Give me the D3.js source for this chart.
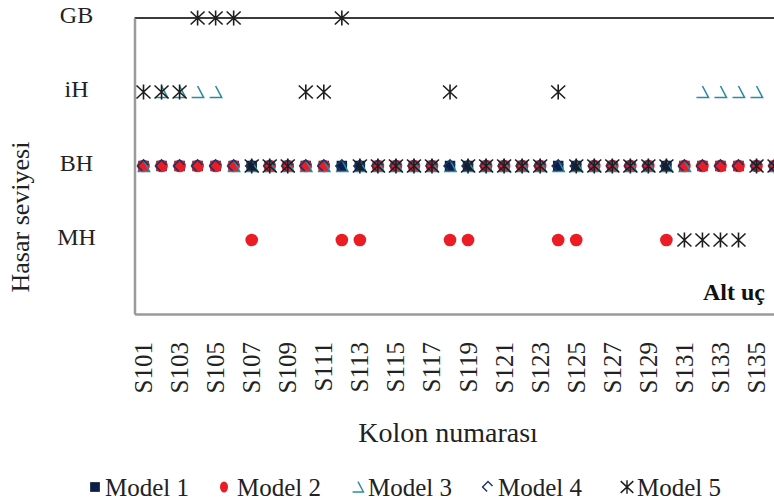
<!DOCTYPE html>
<html>
<head>
<meta charset="utf-8">
<script src="https://cdn.jsdelivr.net/npm/d3@7"></script>
<style>
  body { margin: 0; background: #fff; }
  svg { display: block; font-family: "Liberation Serif", serif; }
</style>
</head>
<body>
<div id="chart"></div>
<script>
const columns = ['S101','S102','S103','S104','S105','S106','S107','S108','S109','S110','S111','S112',
  'S113','S114','S115','S116','S117','S118','S119','S120','S121','S122','S123','S124',
  'S125','S126','S127','S128','S129','S130','S131','S132','S133','S134','S135','S136'];
const tickLabels = ['S101','S103','S105','S107','S109','S111','S113','S115','S117',
  'S119','S121','S123','S125','S127','S129','S131','S133','S135'];
const levels = ['MH', 'BH', 'iH', 'GB'];

const model1 = ['BH','BH','BH','BH','BH','BH','BH','BH','BH','BH','BH','BH',
  'BH','BH','BH','BH','BH','BH','BH','BH','BH','BH','BH','BH',
  'BH','BH','BH','BH','BH','BH','BH','BH','BH','BH','BH','BH'];
const model2 = ['BH','BH','BH','BH','BH','BH','MH','BH','BH','BH','BH','MH',
  'MH','BH','BH','BH','BH','MH','MH','BH','BH','BH','BH','MH',
  'MH','BH','BH','BH','BH','MH','BH','BH','BH','BH','BH','BH'];
const model3 = ['BH','iH','iH','iH','iH','BH','BH','BH','BH','BH','BH','BH',
  'BH','BH','BH','BH','BH','BH','BH','BH','BH','BH','BH','BH',
  'BH','BH','BH','BH','BH','BH','BH','iH','iH','iH','iH','BH'];
const model4 = ['BH','BH','BH','BH','BH','BH','BH','BH','BH','BH','BH','BH',
  'BH','BH','BH','BH','BH','BH','BH','BH','BH','BH','BH','BH',
  'BH','BH','BH','BH','BH','BH','BH','BH','BH','BH','BH','BH'];
const model5 = ['iH','iH','iH','GB','GB','GB','BH','BH','BH','iH','iH','GB',
  'BH','BH','BH','BH','BH','iH','BH','BH','BH','BH','BH','iH',
  'BH','BH','BH','BH','BH','BH','MH','MH','MH','MH','BH','BH'];

const seriesNames = ['Model 1', 'Model 2', 'Model 3', 'Model 4', 'Model 5'];

const width = 774, height = 501;
const font = '"Liberation Serif", serif';

// marker shapes (Excel style, partly clipped like the original export)
const shapes = {
  'Model 1': { d: d3.symbol(d3.symbolSquare, 110)(), fill: '#0c1f48', stroke: 'none' },
  'Model 2': { d: d3.symbol(d3.symbolCircle, 125)(), fill: '#ec1c24', stroke: 'none' },
  'Model 3': { d: 'M0,-6L6,5.5H-6', fill: 'none', stroke: '#2b8aa6' },
  'Model 4': { d: 'M-1,5L-6,0L0,-6L5,-1', fill: 'none', stroke: '#1b3564' },
  'Model 5': { d: 'M-7,-6.5L7,6.5M-7,6.5L7,-6.5M0,-7.5V7.5', fill: 'none', stroke: '#1e1e1e' }
};

const series = [model1, model2, model3, model4, model5].map((vals, i) => ({
  name: seriesNames[i],
  values: vals.map((v, j) => ({ col: columns[j], level: v }))
}));

const svg = d3.select('#chart')
  .append('svg')
  .attr('width', width)
  .attr('height', height);

const x = d3.scaleBand()
  .domain(columns)
  .range([134.5, 134.5 + 36 * 18.03]);

const y = d3.scaleLinear()
  .domain([0, 4])
  .range([314, 18]);

// top border line
svg.append('line')
  .attr('x1', x.range()[0]).attr('x2', x.range()[1])
  .attr('y1', y(4)).attr('y2', y(4))
  .attr('stroke', '#3a3a3a')
  .attr('stroke-width', 2);

// x axis
const xAxis = svg.append('g')
  .attr('transform', `translate(0,${y(0)})`)
  .call(d3.axisBottom(x).tickValues(tickLabels).tickSize(0).tickSizeOuter(0));
xAxis.select('.domain').attr('stroke', '#9a9a9a').attr('stroke-width', 2.5);
xAxis.selectAll('text')
  .attr('transform', 'rotate(-90)')
  .attr('text-anchor', 'end')
  .attr('x', -28)
  .attr('y', 8.5)
  .attr('dy', 0)
  .attr('fill', '#222')
  .attr('font-family', font)
  .attr('font-size', '25px');

// y axis
const yAxis = svg.append('g')
  .attr('transform', `translate(${x.range()[0]},0)`)
  .call(d3.axisLeft(y).tickValues([1, 2, 3, 4]).tickFormat(d => levels[d - 1]).tickSize(0).tickSizeOuter(0));
yAxis.select('.domain').attr('stroke', '#9a9a9a').attr('stroke-width', 2.5);
yAxis.selectAll('text')
  .attr('text-anchor', 'middle')
  .attr('x', -58)
  .attr('dy', '0.2em')
  .attr('fill', '#222')
  .attr('font-family', font)
  .attr('font-size', '24px');

// markers
series.forEach(s => {
  const sh = shapes[s.name];
  svg.append('g')
    .selectAll('path')
    .data(s.values)
    .enter()
    .append('path')
    .attr('transform', d => `translate(${x(d.col) + x.bandwidth() / 2},${y(levels.indexOf(d.level) + 1)})`)
    .attr('d', sh.d)
    .attr('fill', sh.fill)
    .attr('stroke', sh.stroke)
    .attr('stroke-width', 1.6);
});

// axis titles
svg.append('text')
  .attr('transform', 'translate(29,217) rotate(-90)')
  .attr('text-anchor', 'middle')
  .attr('fill', '#222')
  .attr('font-family', font)
  .attr('font-size', '26px')
  .text('Hasar seviyesi');

svg.append('text')
  .attr('x', 448)
  .attr('y', 442)
  .attr('text-anchor', 'middle')
  .attr('fill', '#222')
  .attr('font-family', font)
  .attr('font-size', '28px')
  .text('Kolon numarası');

svg.append('text')
  .attr('x', 765)
  .attr('y', 300)
  .attr('text-anchor', 'end')
  .attr('fill', '#111')
  .attr('font-family', font)
  .attr('font-weight', 'bold')
  .attr('font-size', '24px')
  .text('Alt uç');

// legend
const legendX = [95, 224, 358, 488, 627];
const legend = svg.append('g');
series.forEach((s, i) => {
  const sh = shapes[s.name];
  const g = legend.append('g')
    .attr('transform', `translate(${legendX[i]},487)`);
  g.append('path')
    .attr('d', i === 0 ? d3.symbol(d3.symbolSquare, 95)() : i === 1 ? 'M0,-5.5A4,5.5 0 1,1 0,5.5A4,5.5 0 1,1 0,-5.5Z' : sh.d)
    .attr('transform', i >= 2 ? 'scale(0.9)' : null)
    .attr('fill', sh.fill)
    .attr('stroke', sh.stroke)
    .attr('stroke-width', 1.6);
  g.append('text')
    .attr('x', i === 1 ? 13 : 10)
    .attr('y', 9)
    .attr('fill', '#222')
    .attr('font-family', font)
    .attr('font-size', '25px')
    .text(s.name);
});
</script>
</body>
</html>
